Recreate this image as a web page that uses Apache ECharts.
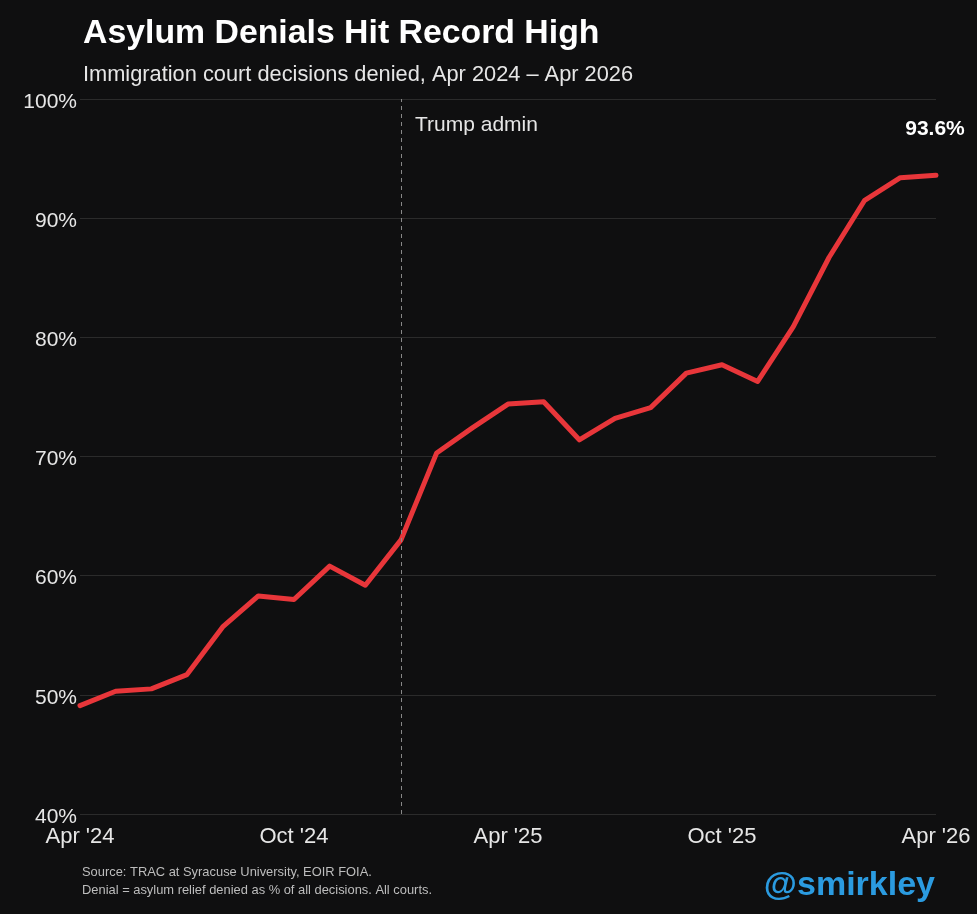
<!DOCTYPE html>
<html><head><meta charset="utf-8">
<script src="https://cdn.jsdelivr.net/npm/echarts@6/dist/echarts.min.js"></script>
<style>html,body{margin:0;padding:0;background:#0f0f10;}#c{width:977px;height:914px;}</style>
</head><body><div id="c"></div>
<script>
const months = ["Apr '24","May '24","Jun '24","Jul '24","Aug '24","Sep '24","Oct '24","Nov '24","Dec '24","Jan '25","Feb '25","Mar '25","Apr '25","May '25","Jun '25","Jul '25","Aug '25","Sep '25","Oct '25","Nov '25","Dec '25","Jan '26","Feb '26","Mar '26","Apr '26"];
const denialRate = [49.1,50.3,50.5,51.7,55.7,58.3,58.0,60.8,59.2,63.0,70.3,72.4,74.4,74.6,71.4,73.2,74.1,77.0,77.7,76.3,80.9,86.7,91.5,93.4,93.6];
const shownTicks = ["Apr '24","Oct '24","Apr '25","Oct '25","Apr '26"];
const trumpStart = "Jan '25";
const font = "Liberation Sans, Arial, sans-serif";
const chart = echarts.init(document.getElementById('c'));
chart.setOption({
  backgroundColor: '#0f0f10',
  animation: false,
  title: [
    {text: 'Asylum Denials Hit Record High', left: 78, top: 12,
     textStyle: {color: '#ffffff', fontSize: 33.8, fontWeight: 'bold', fontFamily: font}},
    {text: 'Immigration court decisions denied, Apr 2024 – Apr 2026', left: 78, top: 59,
     textStyle: {color: '#e6e6e6', fontSize: 21.8, fontWeight: 'normal', fontFamily: font}},
    {text: 'Source: TRAC at Syracuse University, EOIR FOIA.\nDenial = asylum relief denied as % of all decisions. All courts.',
     left: 77, top: 858, textStyle: {color: '#bdbdbd', fontSize: 12.9, lineHeight: 18.5, fontWeight: 'normal', fontFamily: font}},
    {text: '@smirkley', right: 37, top: 864,
     textStyle: {color: '#2b9be0', fontSize: 34, fontWeight: 'bold', fontFamily: font}}
  ],
  grid: {left: 80, right: 41, top: 99, bottom: 100, containLabel: false},
  xAxis: {
    type: 'category', data: months, boundaryGap: false,
    axisLine: {show: false}, axisTick: {show: false},
    axisLabel: {color: '#e6e6e6', fontSize: 22, fontFamily: font, margin: 12,
      interval: (i, v) => shownTicks.includes(v), hideOverlap: false, showMaxLabel: true, showMinLabel: true},
    splitLine: {show: false}
  },
  yAxis: {
    type: 'value', min: 40, max: 100, interval: 10,
    axisLine: {show: false}, axisTick: {show: false},
    axisLabel: {margin: 3, formatter: '{a|{value}%}', verticalAlign: 'middle',
      rich: {a: {color: '#e6e6e6', fontSize: 21, fontFamily: font, padding: [6, 0, 0, 0]}}},
    splitLine: {lineStyle: {color: '#2b2b2b', width: 1}}
  },
  series: [{
    type: 'line', data: denialRate, symbol: 'none', smooth: false,
    lineStyle: {color: '#e8363a', width: 5, cap: 'round', join: 'round'},
    markLine: {
      silent: true, symbol: 'none',
      lineStyle: {color: '#888888', type: [4, 4], width: 1},
      label: {show: true, position: 'insideEndBottom', formatter: 'Trump admin', color: '#e6e6e6', fontSize: 21, fontFamily: font,
        rotate: 0, align: 'left', distance: [0, 0], offset: [14, 16]},
      data: [{xAxis: trumpStart}]
    },
    markPoint: {
      symbol: 'circle', symbolSize: 0,
      label: {show: true, formatter: (p) => p.value.toFixed(1) + '%', color: '#ffffff', fontSize: 21, fontWeight: 'bold', fontFamily: font,
        position: 'top', distance: 0, offset: [-1, -36]},
      data: [{coord: [months.length - 1, denialRate[denialRate.length - 1]], value: denialRate[denialRate.length - 1]}]
    }
  }]
});
</script></body></html>
